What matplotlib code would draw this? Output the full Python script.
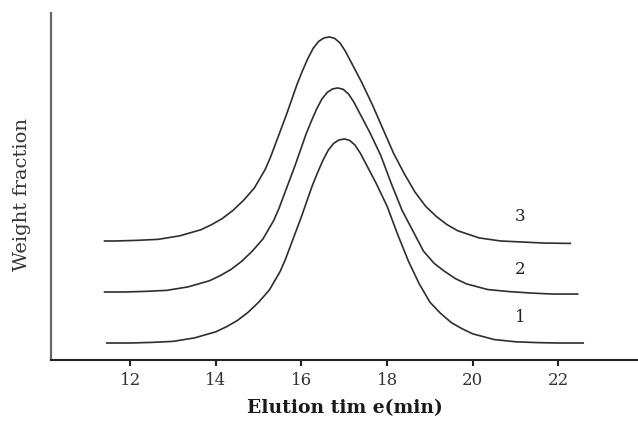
import numpy as np
import matplotlib
matplotlib.use("Agg")
import matplotlib.pyplot as plt

plt.rcParams['font.family'] = ['DejaVu Serif']

# elution time (min) and weight fraction (arb. units, curves offset vertically)
t1 = [11.45, 12.0, 12.5, 13.0, 13.5, 14.0, 14.25, 14.5, 14.75, 15.0, 15.25,
      15.5, 15.625, 15.75, 15.875, 16.0, 16.125, 16.25, 16.375, 16.5, 16.625, 16.75, 16.875, 17.0,
      17.125, 17.25, 17.375, 17.5, 17.625, 17.75, 17.875, 18.0, 18.125, 18.25, 18.375, 18.5,
      18.75, 19.0, 19.25, 19.5, 19.75, 20.0, 20.5, 21.0, 21.5, 22.0, 22.58]
w1 = [0.0, 0.0, 0.003, 0.008, 0.025, 0.055, 0.08, 0.11, 0.15, 0.20, 0.26,
      0.35, 0.41, 0.48, 0.55, 0.62, 0.695, 0.77, 0.835, 0.895, 0.945, 0.978, 0.995, 1.0,
      0.993, 0.97, 0.93, 0.88, 0.83, 0.78, 0.725, 0.67, 0.60, 0.53, 0.465, 0.40,
      0.29, 0.20, 0.145, 0.10, 0.07, 0.045, 0.017, 0.006, 0.002, 0.0, 0.0]

t2 = [11.4, 11.85, 12.35, 12.85, 13.35, 13.85, 14.1, 14.35, 14.6, 14.85, 15.1,
      15.35, 15.475, 15.6, 15.725, 15.85, 15.975, 16.1, 16.225, 16.35, 16.475, 16.6, 16.725, 16.85,
      16.975, 17.1, 17.225, 17.35, 17.475, 17.6, 17.725, 17.85, 17.975, 18.1, 18.225, 18.35,
      18.6, 18.85, 19.1, 19.35, 19.6, 19.85, 20.35, 20.85, 21.35, 21.85, 22.45]
w2 = [0.25, 0.25, 0.253, 0.258, 0.275, 0.305, 0.33, 0.36, 0.40, 0.45, 0.51,
      0.60, 0.66, 0.73, 0.80, 0.87, 0.945, 1.02, 1.085, 1.145, 1.195, 1.228, 1.245, 1.25,
      1.243, 1.22, 1.18, 1.13, 1.08, 1.03, 0.975, 0.92, 0.85, 0.78, 0.715, 0.65,
      0.55, 0.45, 0.39, 0.35, 0.315, 0.29, 0.262, 0.252, 0.245, 0.24, 0.24]

t3 = [11.4, 11.65, 12.15, 12.65, 13.15, 13.65, 13.9, 14.15, 14.4, 14.65, 14.9,
      15.15, 15.275, 15.4, 15.525, 15.65, 15.775, 15.9, 16.025, 16.15, 16.275, 16.4, 16.525, 16.65,
      16.775, 16.9, 17.025, 17.15, 17.275, 17.4, 17.525, 17.65, 17.775, 17.9, 18.025, 18.15,
      18.4, 18.65, 18.9, 19.15, 19.4, 19.65, 20.15, 20.65, 21.15, 21.65, 22.28]
w3 = [0.5, 0.5, 0.503, 0.508, 0.525, 0.555, 0.58, 0.61, 0.65, 0.70, 0.76,
      0.85, 0.91, 0.98, 1.05, 1.12, 1.195, 1.27, 1.335, 1.395, 1.445, 1.478, 1.495, 1.50,
      1.493, 1.47, 1.43, 1.38, 1.33, 1.28, 1.225, 1.17, 1.11, 1.05, 0.99, 0.93,
      0.83, 0.74, 0.67, 0.62, 0.58, 0.55, 0.515, 0.50, 0.495, 0.49, 0.488]

labels = ["1", "2", "3"]
label_x = 21.1
label_y = [0.083, 0.319, 0.578]
xticks = [12, 14, 16, 18, 20, 22]

fig = plt.figure(figsize=(6.38, 4.28), dpi=100)
ax = fig.add_axes([0.080, 0.159, 0.92, 0.811])

for t, w in [(t1, w1), (t2, w2), (t3, w3)]:
    ax.plot(t, w, color='#2e2e2e', lw=1.2)

for lab, y in zip(labels, label_y):
    ax.text(label_x, y, lab, fontsize=12, color='#222222', ha='center', va='bottom')

ax.set_xlim(10.15, 23.86)
ax.set_ylim(-0.083, 1.618)
ax.set_xticks(xticks)
ax.set_yticks([])
ax.tick_params(axis='x', direction='out', length=4, width=1.5, color='#222222',
               labelsize=12, labelcolor='#333333', pad=5)

ax.spines['top'].set_visible(False)
ax.spines['right'].set_visible(False)
ax.spines['left'].set_color('#666666')
ax.spines['left'].set_linewidth(1.6)
ax.spines['bottom'].set_color('#222222')
ax.spines['bottom'].set_linewidth(1.5)

ax.set_xlabel("Elution tim e(min)", fontsize=13.5, fontweight='bold', color='#1a1a1a', labelpad=7)
fig.text(0.035, 0.545, "Weight fraction", rotation=90, fontsize=14, color='#333333',
         ha='center', va='center')

fig.savefig("out.png", dpi=100)
